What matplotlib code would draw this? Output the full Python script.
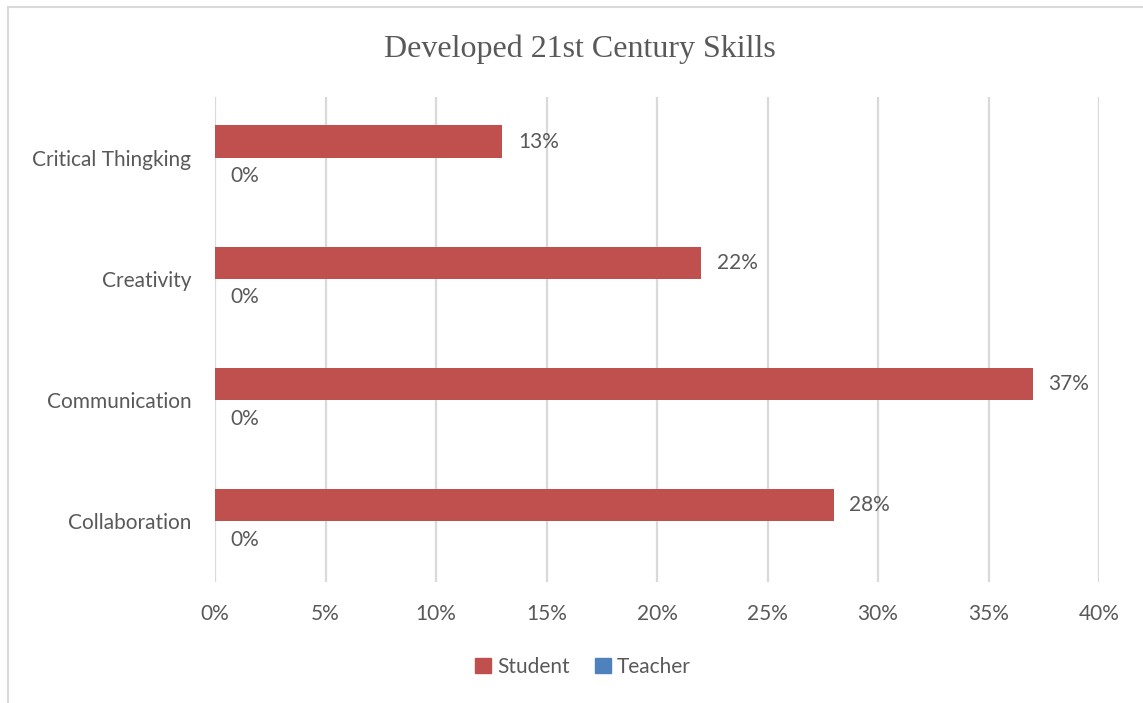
import matplotlib
matplotlib.use("Agg")
import matplotlib.pyplot as plt
from matplotlib.lines import Line2D
from matplotlib.patches import Patch

categories = ["Collaboration", "Communication", "Creativity", "Critical Thingking"]
student = [28, 37, 22, 13]
teacher = [0, 0, 0, 0]
xticks = [0, 5, 10, 15, 20, 25, 30, 35, 40]
title = "Developed 21st Century Skills"

RED = "#C0504D"
BLUE = "#4F81BD"
TXT = "#595959"
GRID = "#D9D9D9"
FONT = ["Lato", "DejaVu Sans"]
FS = 15

fig = plt.figure(figsize=(11.43, 7.03), dpi=100)
ax = fig.add_axes([215/1143, 1-582/703, (1099-215)/1143, (582-97)/703])

n = len(categories)
h = 0.265
ys = list(range(n))
ax.barh([y + h/2 for y in ys], student, height=h, color=RED, label="Student")
ax.barh([y - h/2 for y in ys], teacher, height=h, color=BLUE, label="Teacher")

for y, v in zip(ys, student):
    ax.text(v + 0.7, y + h/2, f"{v}%", va="center", ha="left", fontsize=FS, color=TXT, family=FONT)
for y, v in zip(ys, teacher):
    ax.text(v + 0.7, y - h/2 - 0.02, f"{v}%", va="center", ha="left", fontsize=FS, color=TXT, family=FONT)

ax.set_xlim(0, 40)
ax.set_ylim(-0.5, n - 0.5)
ax.set_xticks(xticks)
ax.set_xticklabels([f"{t}%" for t in xticks], fontsize=FS, color=TXT, family=FONT)
ax.set_yticks(ys)
ax.set_yticklabels(categories, fontsize=FS, color=TXT, family=FONT)
ax.tick_params(axis="both", length=0)
ax.tick_params(axis="x", pad=16)
ax.tick_params(axis="y", pad=17)
ax.grid(axis="x", color=GRID, linewidth=1.6)
ax.set_axisbelow(True)
for s in ax.spines.values():
    s.set_visible(False)

fig.text(580/1143, 1-49/703, title, ha="center", va="center", fontsize=23,
         color=TXT, family=["Liberation Serif", "DejaVu Serif"])

handles = [Patch(color=RED), Patch(color=BLUE)]
fig.legend(handles, ["Student", "Teacher"], loc="center", bbox_to_anchor=(583/1143, 1-667/703),
           ncol=2, frameon=False, handlelength=0.75, handleheight=0.75, handletextpad=0.3,
           columnspacing=1.2, prop={"family": FONT, "size": FS}, labelcolor=TXT)

fig.add_artist(Line2D([8/1143, 8/1143], [0, 1-7/703], color=GRID, linewidth=1.5, transform=fig.transFigure))
fig.add_artist(Line2D([8/1143, 1], [1-7/703, 1-7/703], color=GRID, linewidth=1.5, transform=fig.transFigure))

fig.savefig("out.png", dpi=100)
